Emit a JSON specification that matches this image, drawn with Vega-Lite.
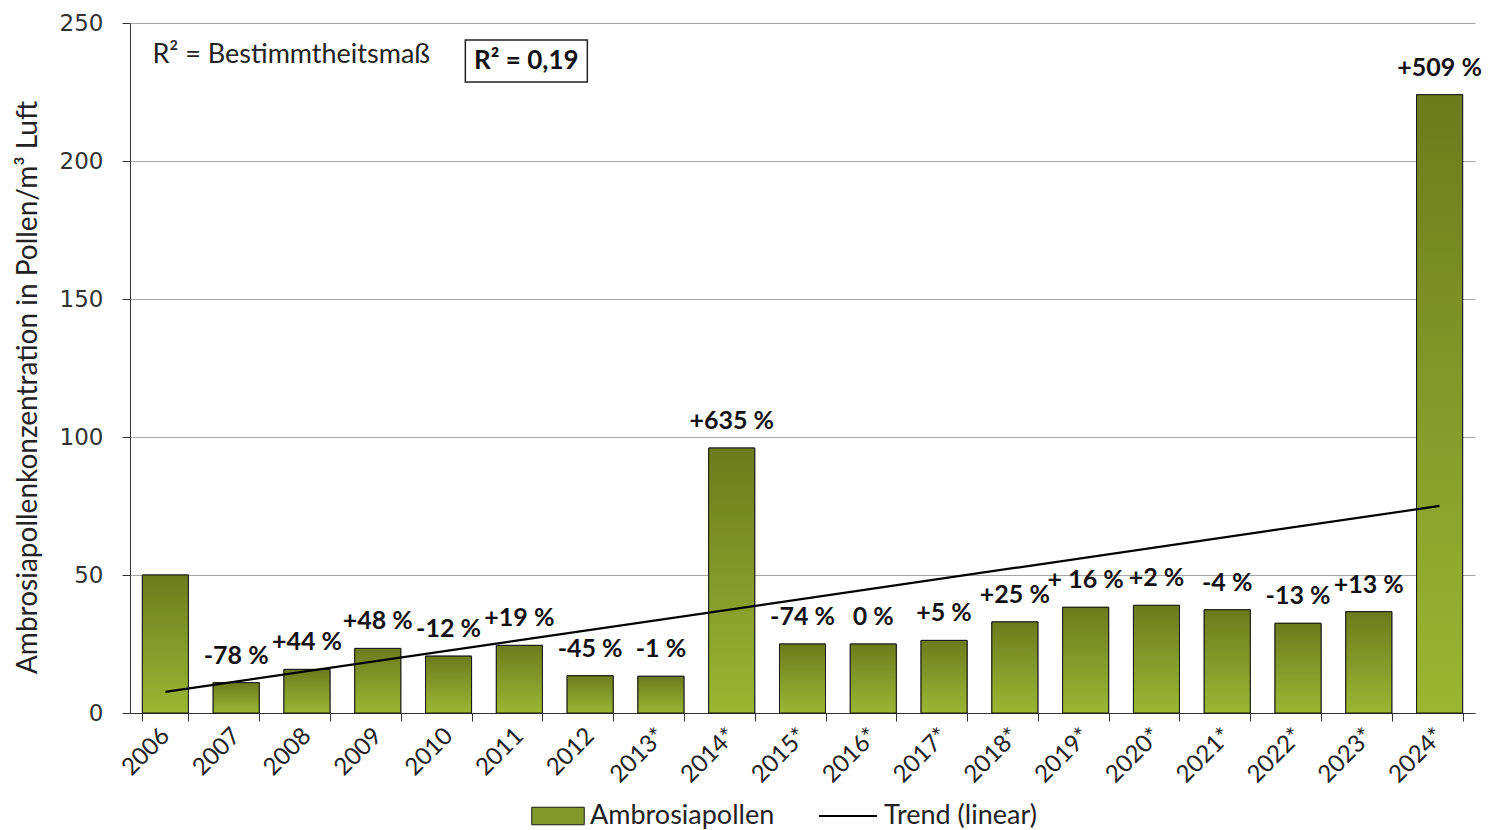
{
  "$schema": "https://vega.github.io/schema/vega-lite/v6.json",
  "width": 1345,
  "height": 690,
  "autosize": {"type": "none"},
  "padding": {"left": 130, "top": 23, "right": 18, "bottom": 117},
  "background": "white",
  "config": {"view": {"stroke": null}, "font": "Lato"},
  "datasets": {
    "pollen": [
      {"jahr": 2006, "label": "2006", "wert": 50, "aenderung": ""},
      {"jahr": 2007, "label": "2007", "wert": 11, "aenderung": "-78 %"},
      {"jahr": 2008, "label": "2008", "wert": 15.8, "aenderung": "+44 %"},
      {"jahr": 2009, "label": "2009", "wert": 23.4, "aenderung": "+48 %"},
      {"jahr": 2010, "label": "2010", "wert": 20.6, "aenderung": "-12 %"},
      {"jahr": 2011, "label": "2011", "wert": 24.5, "aenderung": "+19 %"},
      {"jahr": 2012, "label": "2012", "wert": 13.5, "aenderung": "-45 %"},
      {"jahr": 2013, "label": "2013*", "wert": 13.3, "aenderung": "-1 %"},
      {"jahr": 2014, "label": "2014*", "wert": 96, "aenderung": "+635 %"},
      {"jahr": 2015, "label": "2015*", "wert": 25, "aenderung": "-74 %"},
      {"jahr": 2016, "label": "2016*", "wert": 25, "aenderung": "0 %"},
      {"jahr": 2017, "label": "2017*", "wert": 26.3, "aenderung": "+5 %"},
      {"jahr": 2018, "label": "2018*", "wert": 33, "aenderung": "+25 %"},
      {"jahr": 2019, "label": "2019*", "wert": 38.3, "aenderung": "+ 16 %"},
      {"jahr": 2020, "label": "2020*", "wert": 39, "aenderung": "+2 %"},
      {"jahr": 2021, "label": "2021*", "wert": 37.4, "aenderung": "-4 %"},
      {"jahr": 2022, "label": "2022*", "wert": 32.5, "aenderung": "-13 %"},
      {"jahr": 2023, "label": "2023*", "wert": 36.7, "aenderung": "+13 %"},
      {"jahr": 2024, "label": "2024*", "wert": 224, "aenderung": "+509 %"}
    ]
  },
  "data": {"name": "pollen"},
  "layer": [
    {
      "mark": {"type": "bar", "stroke": "#1a1a1a", "strokeWidth": 1},
      "encoding": {
        "x": {
          "field": "label", "type": "ordinal",
          "scale": {"paddingInner": 0.35, "paddingOuter": 0.175},
          "axis": {
            "title": null, "labelAngle": -45, "labelAlign": "right", "labelBaseline": "middle",
            "labelFont": "Lato", "labelFontSize": 24, "labelColor": "#222", "labelPadding": 11,
            "tickBand": "extent", "tickSize": 8, "tickColor": "#333", "domainColor": "#333", "grid": false
          }
        },
        "y": {
          "field": "wert", "type": "quantitative",
          "scale": {"domain": [0, 250], "nice": false, "zero": true},
          "axis": {
            "values": [0, 50, 100, 150, 200, 250],
            "title": "Ambrosiapollenkonzentration in Pollen/m³ Luft",
            "titleFont": "Lato", "titleFontSize": 28, "titleFontWeight": "normal", "titleColor": "#222", "titlePadding": 17,
            "titleY": 364,
            "labelFont": "DejaVu Sans", "labelFontSize": 23, "labelColor": "#333", "labelPadding": 19,
            "tickSize": 8, "tickColor": "#333", "domainColor": "#333",
            "grid": true, "gridColor": "#a6a6a6"
          }
        },
        "fill": {
          "datum": "Ambrosiapollen",
          "scale": {"range": ["#85992a"]},
          "legend": {
            "orient": "none", "legendX": 410, "legendY": 775, "title": null,
            "symbolType": "M-1.5,-0.5L1.5,-0.5L1.5,0.5L-1.5,0.5Z", "symbolSize": 1225,
            "symbolStrokeColor": "#1a1a1a", "symbolStrokeWidth": 1,
            "labelFont": "Lato", "labelFontSize": 27, "labelColor": "#222", "labelOffset": 14, "labelLimit": 400
          }
        }
      }
    },
    {
      "mark": {"type": "bar", "stroke": "#1a1a1a", "strokeWidth": 1,
        "fill": {"gradient": "linear", "x1": 0, "y1": 0, "x2": 0, "y2": 1, "stops": [{"offset": 0, "color": "#6c7b1b"}, {"offset": 0.5, "color": "#85992a"}, {"offset": 1, "color": "#9cb632"}]}},
      "encoding": {
        "x": {"field": "label", "type": "ordinal"},
        "y": {"field": "wert", "type": "quantitative", "scale": {"domain": [0, 250], "nice": false}}
      }
    },
    {
      "transform": [
        {"regression": "wert", "on": "jahr"},
        {"lookup": "jahr", "from": {"data": {"name": "pollen"}, "key": "jahr", "fields": ["label"]}}
      ],
      "mark": {"type": "line", "strokeWidth": 2.2},
      "encoding": {
        "x": {"field": "label", "type": "ordinal"},
        "y": {"field": "wert", "type": "quantitative", "scale": {"domain": [0, 250], "nice": false}},
        "stroke": {
          "datum": "Trend (linear)",
          "scale": {"range": ["#000000"]},
          "legend": {
            "orient": "none", "legendX": 688, "legendY": 763, "title": null,
            "symbolType": "stroke", "symbolSize": 3364, "symbolStrokeWidth": 2,
            "labelFont": "Lato", "labelFontSize": 27, "labelColor": "#222", "labelOffset": 6, "labelLimit": 400
          }
        }
      }
    },
    {
      "mark": {"type": "text", "fontWeight": "bold", "fontSize": 25, "font": "Lato", "baseline": "middle", "dy": -27, "color": "#111"},
      "encoding": {
        "x": {"field": "label", "type": "ordinal"},
        "y": {"field": "wert", "type": "quantitative", "scale": {"domain": [0, 250], "nice": false}},
        "text": {"field": "aenderung"}
      }
    },
    {
      "data": {"values": [{"t": "R² = Bestimmtheitsmaß"}]},
      "mark": {"type": "text", "fontSize": 27, "font": "Lato", "align": "left", "baseline": "middle", "dx": -13, "color": "#222"},
      "encoding": {
        "x": {"datum": "2006", "type": "ordinal"},
        "y": {"datum": 238.4, "type": "quantitative", "scale": {"domain": [0, 250], "nice": false}},
        "text": {"field": "t"}
      }
    },
    {
      "data": {"values": [{"t": "R² = 0,19"}]},
      "mark": {"type": "point", "shape": "M-1,-0.344L1,-0.344L1,0.344L-1,0.344Z", "size": 14884, "filled": true, "fill": "white", "stroke": "#222", "strokeWidth": 1.5, "opacity": 1, "xOffset": 7},
      "encoding": {
        "x": {"datum": "2011", "type": "ordinal"},
        "y": {"datum": 236.2, "type": "quantitative", "scale": {"domain": [0, 250], "nice": false}}
      }
    },
    {
      "data": {"values": [{"t": "R² = 0,19"}]},
      "mark": {"type": "text", "fontSize": 26, "fontWeight": "bold", "font": "Lato", "align": "center", "baseline": "middle", "dx": 7, "color": "#111"},
      "encoding": {
        "x": {"datum": "2011", "type": "ordinal"},
        "y": {"datum": 236.2, "type": "quantitative", "scale": {"domain": [0, 250], "nice": false}},
        "text": {"field": "t"}
      }
    }
  ]
}
